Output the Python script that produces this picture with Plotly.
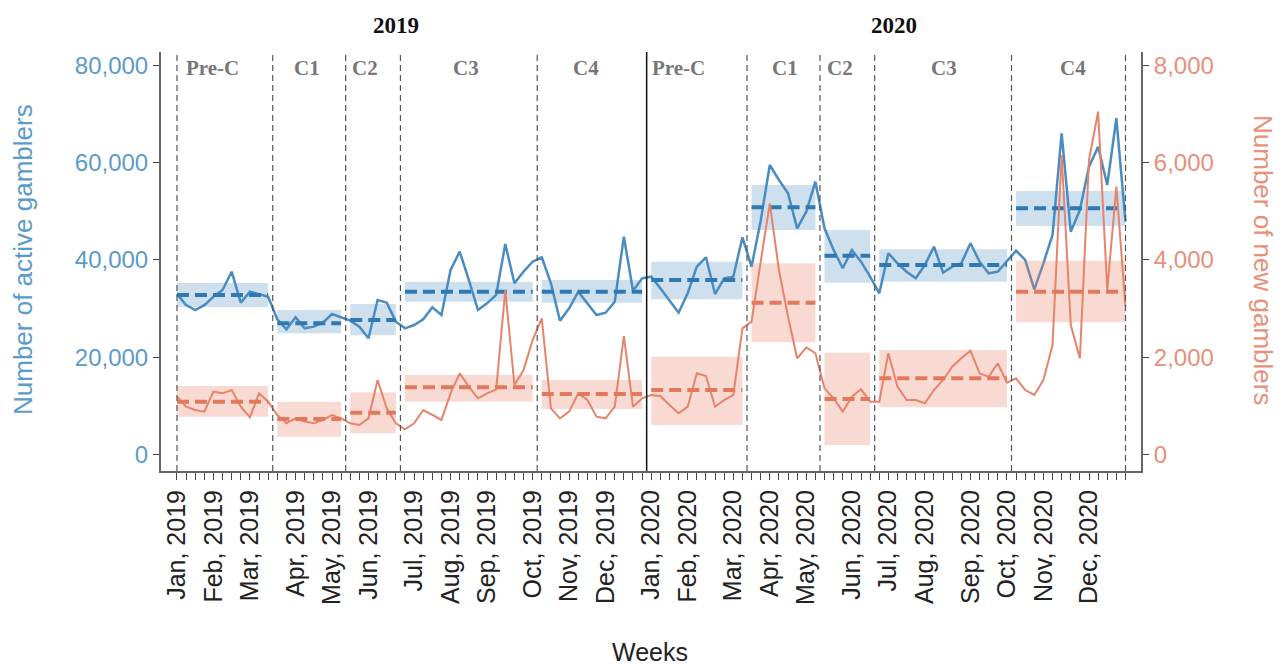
import plotly.graph_objects as go

# weekly series, week 0 = first week of Jan 2019
weeks = list(range(105))
active = [
    33000, 30720, 29690, 30700, 32400, 33800, 37560, 31200, 33460, 32900,
    32430, 27780, 25730, 28190, 25930, 26270, 27090, 28870, 28190, 27500,
    26270, 23880, 31750, 31200, 27300, 25930, 26610, 27780, 30250, 28670,
    37910, 41680, 35860, 29690, 31070, 32780, 43260, 35180, 37570, 39620,
    40520, 35180, 27500, 30040, 33460, 31070, 28670, 29140, 31400, 44760,
    33660, 36210, 36540, 34150, 31750, 29140, 33130, 38600, 40520, 32980,
    36210, 36540, 44630, 38600, 48000, 59490, 56410, 53670, 46480, 49900,
    56060, 46480, 42020, 38260, 42020, 39620, 36540, 33130, 41350, 39290,
    37570, 36210, 38940, 42700, 37360, 38600, 39290, 43400, 39620, 37240,
    37570, 39620, 41880, 39970, 33950, 39290, 45110, 66010, 45790, 50250,
    59140, 63250, 55380, 69090, 47840,
]
new = [
    1188, 983, 914, 880, 1291, 1257, 1325, 983, 764, 1257,
    1085, 812, 641, 744, 675, 641, 709, 812, 744, 641,
    606, 744, 1531, 949, 641, 518, 641, 914, 812, 709,
    1257, 1668, 1394, 1155, 1257, 1340, 3380, 1428, 1736, 2353,
    2799, 949, 744, 880, 1257, 1120, 777, 744, 983, 2435,
    983, 1155, 1223, 1202, 1017, 847, 983, 1668, 1613, 983,
    1120, 1223, 2593, 2730, 3960, 5162, 3791, 2832, 1977, 2203,
    2080, 1360, 1155, 880, 1188, 1340, 1085, 1085, 2080, 1394,
    1120, 1120, 1052, 1325, 1531, 1804, 1977, 2134, 1668, 1599,
    1874, 1476, 1566, 1325, 1223, 1531, 2250, 6155, 2661, 1977,
    6052, 7045, 3380, 5503, 3037,
]

# phases: first week, last week
phase_names = ["Pre-C", "C1", "C2", "C3", "C4", "Pre-C", "C1", "C2", "C3", "C4"]
phase_start = [0, 11, 19, 25, 40, 52, 63, 71, 77, 92]
phase_end = [10, 18, 24, 39, 51, 62, 70, 76, 91, 104]
phase_label_x = [3.9, 14.3, 20.6, 31.7, 44.8, 55.0, 66.7, 72.7, 84.1, 98.2]
boundaries = [0, 10.5, 18.5, 24.5, 39.5, 62.5, 70.5, 76.5, 91.5, 104]
year_break = 51.5

active_mean = [32800, 26960, 27640, 33460, 33460, 35860, 50800, 40860, 38940, 50590]
active_lo = [30300, 24900, 24500, 31400, 31200, 31890, 46130, 35310, 35510, 46960]
active_hi = [35260, 29700, 30930, 35510, 35860, 39620, 55380, 46130, 42170, 54150]
new_mean = [1085, 730, 859, 1381, 1243, 1325, 3120, 1141, 1566, 3346]
new_lo = [777, 366, 435, 1085, 935, 606, 2306, 195, 970, 2717]
new_hi = [1408, 1085, 1278, 1634, 1531, 2010, 3929, 2093, 2147, 3983]

tick_weeks = [0, 4, 8, 13, 17, 21, 26, 30, 34, 39, 43, 47,
              52, 56, 61, 65, 69, 74, 78, 82, 87, 91, 95, 100]
months = ["Jan", "Feb", "Mar", "Apr", "May", "Jun",
          "Jul", "Aug", "Sep", "Oct", "Nov", "Dec"]
tick_text = [f"{m}, 2019" for m in months] + [f"{m}, 2020" for m in months]

BLUE = "#4a8cc2"
BLUE_DARK = "#2f78b2"
BLUE_FILL = "rgba(74,140,194,0.27)"
BLUE_TXT = "#5b9bc9"
RED = "#e8836b"
RED_DARK = "#e2785c"
RED_FILL = "rgba(232,131,107,0.30)"
RED_TXT = "#e8907a"
SANS = "Liberation Sans, Arial, sans-serif"
SERIF = "Liberation Serif, Times New Roman, serif"

fig = go.Figure()


def add_series(values, mean, lo, hi, yaxis, line_col, mean_col, fill_col, width):
    for i in range(len(phase_start)):
        x0, x1 = phase_start[i], phase_end[i]
        fig.add_trace(go.Scatter(
            x=[x0, x1, x1, x0, x0], y=[lo[i], lo[i], hi[i], hi[i], lo[i]],
            fill="toself", fillcolor=fill_col, line=dict(width=0),
            mode="lines", hoverinfo="skip", showlegend=False, yaxis=yaxis,
        ))
    fig.add_trace(go.Scatter(
        x=weeks, y=values, mode="lines", line=dict(color=line_col, width=width),
        showlegend=False, yaxis=yaxis,
    ))
    for i in range(len(phase_start)):
        fig.add_trace(go.Scatter(
            x=[phase_start[i], phase_end[i]], y=[mean[i], mean[i]], mode="lines",
            line=dict(color=mean_col, width=4, dash="12px,6px"),
            showlegend=False, yaxis=yaxis,
        ))


add_series(active, active_mean, active_lo, active_hi, "y", BLUE, BLUE_DARK, BLUE_FILL, 2.5)
add_series(new, new_mean, new_lo, new_hi, "y2", RED, RED_DARK, RED_FILL, 2)

# phase boundaries
for b in boundaries:
    fig.add_shape(type="line", xref="x", yref="paper", x0=b, x1=b, y0=0, y1=1,
                  line=dict(color="#555", width=1.2, dash="6px,4px"), layer="above")
fig.add_shape(type="line", xref="x", yref="paper", x0=year_break, x1=year_break,
              y0=0, y1=1, line=dict(color="#111", width=1.5), layer="above")

for name, xp in zip(phase_names, phase_label_x):
    fig.add_annotation(x=xp, y=0.962, xref="x", yref="paper", text=f"<b>{name}</b>",
                       xanchor="center", yanchor="middle", showarrow=False,
                       font=dict(family=SERIF, size=21, color="#777"))

for yr, xp in [("2019", 24.0), ("2020", 78.6)]:
    fig.add_annotation(x=xp, y=1.064, xref="x", yref="paper", text=f"<b>{yr}</b>",
                       xanchor="center", yanchor="middle", showarrow=False,
                       font=dict(family=SERIF, size=23, color="#111"))

fig.add_annotation(x=-0.1408, y=0.5036, xref="paper", yref="paper",
                   text="Number of active gamblers", textangle=-90, showarrow=False,
                   xanchor="center", yanchor="middle",
                   font=dict(family=SANS, size=26, color=BLUE_TXT))
fig.add_annotation(x=1.1245, y=0.5036, xref="paper", yref="paper",
                   text="Number of new gamblers", textangle=90, showarrow=False,
                   xanchor="center", yanchor="middle",
                   font=dict(family=SANS, size=26, color=RED_TXT))
fig.add_annotation(x=0.499, y=-0.432, xref="paper", yref="paper", text="Weeks",
                   xanchor="center", yanchor="middle", showarrow=False,
                   font=dict(family=SANS, size=25, color="#222"))

fig.update_layout(
    width=1287, height=664,
    margin=dict(l=153, r=154, t=44, b=201),
    plot_bgcolor="white", paper_bgcolor="white",
    xaxis=dict(
        range=[-1.75, 105.7], tickmode="array", tickvals=tick_weeks, ticktext=tick_text,
        tickangle=-90, ticks="outside", ticklen=7, tickcolor="#444",
        tickfont=dict(family=SANS, size=25, color="#222"),
        showline=True, linecolor="#666", linewidth=2, showgrid=False, zeroline=False,
        minor=dict(tickvals=weeks, ticks="outside", ticklen=7, tickcolor="#444"),
    ),
    yaxis=dict(
        range=[-3390, 82710], tickvals=[0, 20000, 40000, 60000, 80000], tickformat=",",
        ticks="outside", ticklen=6, tickcolor="#444",
        tickfont=dict(family=SANS, size=24, color=BLUE_TXT),
        showline=True, linecolor="#666", linewidth=2, showgrid=False, zeroline=False,
    ),
    yaxis2=dict(
        range=[-339, 8271], tickvals=[0, 2000, 4000, 6000, 8000], tickformat=",",
        overlaying="y", side="right", ticks="outside", ticklen=6, tickcolor="#444",
        tickfont=dict(family=SANS, size=24, color=RED_TXT),
        showline=True, linecolor="#666", linewidth=2, showgrid=False, zeroline=False,
    ),
)

fig.write_html("out.html")
